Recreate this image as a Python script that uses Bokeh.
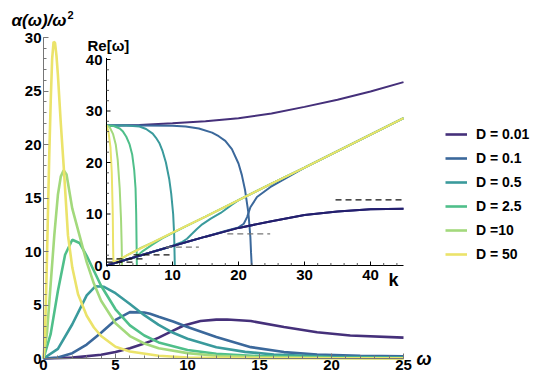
from bokeh.plotting import figure
from bokeh.models import Range1d, Legend, LegendItem, Label, FixedTicker
from bokeh.embed import file_html
from bokeh.resources import INLINE
from bokeh.core.properties import value

# ---------------- data: main plot  alpha(omega)/omega^2 ----------------
labels = ["D = 0.01", "D = 0.1", "D = 0.5", "D = 2.5", "D =10", "D = 50"]
colors = ["#45307a", "#3b689b", "#3a9a9c", "#4fbf8a", "#a3d97c", "#ebe36a"]

w_001 = [0, 2, 4, 5, 6, 7, 7.4, 8, 9, 9.74, 10.9, 12, 12.75, 14.4, 16.7, 19, 21.3, 25]
a_001 = [0, 0.08, 0.35, 0.6, 0.95, 1.4, 1.6, 1.95, 2.6, 3.08, 3.5, 3.63, 3.65, 3.5, 2.95, 2.45, 2.15, 1.95]

w_01 = [0, 1, 2, 3, 4, 5, 6, 7, 7.4, 8, 9, 10, 12, 14.4, 16.7, 19, 22, 25]
a_01 = [0, 0.1, 0.5, 1.3, 2.4, 3.6, 4.33, 4.3, 4.18, 3.9, 3.45, 2.95, 2.0, 1.06, 0.6, 0.37, 0.26, 0.2]

w_05 = [0, 1, 2, 3, 3.6, 4.2, 5, 6, 7, 8, 9, 10, 12, 14, 16, 20, 25]
a_05 = [0, 0.9, 3.2, 5.9, 6.75, 6.7, 6.1, 5.1, 4.05, 3.15, 2.4, 1.85, 1.05, 0.62, 0.38, 0.17, 0.08]

w_25 = [0, 0.5, 1.0, 1.5, 2.0, 2.5, 3.0, 3.5, 4.0, 5.0, 6.0, 7.0, 8.0, 10, 12, 15, 20, 25]
a_25 = [0, 2.3, 6.3, 9.7, 11.1, 10.8, 9.6, 8.2, 6.8, 4.6, 3.1, 2.15, 1.5, 0.8, 0.45, 0.22, 0.08, 0.04]

w_10 = [0, 0.25, 0.5, 0.75, 1.0, 1.2, 1.4, 1.6, 2.0, 2.5, 3.0, 3.5, 4.0, 5.0, 6.0, 7.0, 8.0, 10, 12, 15, 20, 25]
a_10 = [0, 2.5, 7, 11.5, 15.3, 17, 17.6, 17.2, 14, 11.5, 9.0, 7.0, 5.4, 3.3, 2.1, 1.4, 0.95, 0.5, 0.26, 0.12, 0.05, 0.02]

w_50 = [0, 0.1, 0.2, 0.3, 0.4, 0.5, 0.6, 0.7, 0.8, 0.9, 1.0, 1.2, 1.4, 1.7, 2.0, 2.4, 3.0, 3.5, 4.0, 5.0, 6.0, 8.0, 10, 14, 20, 25]
a_50 = [0, 2, 7, 13, 19, 24, 28, 29.6, 29.5, 28.3, 26.5, 22, 18, 11.5, 8.5, 6.0, 4.0, 2.9, 2.1, 1.1, 0.65, 0.25, 0.1, 0.04, 0.02, 0.01]

main_w = [w_001, w_01, w_05, w_25, w_10, w_50]
main_a = [a_001, a_01, a_05, a_25, a_10, a_50]

# ---------------- data: inset  Re[omega](k) ----------------
k_up_001 = [0, 5, 10, 15, 20, 25, 30, 35, 40, 45]
v_up_001 = [27.2, 27.3, 27.6, 28.0, 28.6, 29.5, 30.8, 32.2, 33.8, 35.6]
k_lo_001 = [0, 5, 10, 15, 20, 25, 30, 35, 40, 45]
v_lo_001 = [0, 1.9, 3.8, 5.6, 7.3, 8.6, 9.8, 10.5, 10.9, 11.0]

k_up_01 = [0, 5, 10, 12, 14, 16, 17, 18, 19, 20, 20.5, 21, 21.5, 21.8, 21.9, 22.0]
v_up_01 = [27.2, 27.2, 27.15, 27.0, 26.6, 25.8, 25.1, 24.2, 22.6, 19.8, 17.6, 14.6, 10.2, 5.5, 2.5, 0]
k_lo_01 = [0, 5, 10, 15, 18, 20, 20.8, 21.3, 21.8, 22.8, 24.8, 27.4, 30, 35, 40, 45]
v_lo_01 = [0, 1.9, 3.8, 5.6, 6.7, 7.4, 8.1, 9.4, 11.3, 13.3, 15.2, 17.1, 19.0, 22.2, 25.4, 28.6]

k_up_05 = [0, 3, 5, 6, 7, 7.5, 8, 8.5, 9, 9.5, 9.8, 10.1, 10.25, 10.35]
v_up_05 = [27.2, 27.2, 27.0, 26.5, 25.6, 24.8, 23.8, 22.2, 20.0, 16.8, 14.0, 10.0, 6.0, 0]
k_lo_05 = [0, 5, 10, 10.7, 11.5, 12.2, 13, 13.7, 14.5, 15.8, 17.3, 19, 20, 25, 30, 35, 40, 45]
v_lo_05 = [0, 1.9, 3.8, 4.2, 4.6, 5.2, 6.2, 7.1, 8.0, 9.1, 10.2, 11.8, 12.7, 15.9, 19.0, 22.2, 25.4, 28.6]

k_up_25 = [0, 1, 2, 2.5, 3, 3.5, 3.9, 4.2, 4.4, 4.5, 4.55, 4.6]
v_up_25 = [27.2, 27.1, 26.6, 26.0, 25.0, 23.5, 21.5, 18.5, 15, 10, 5, 0]
k_lo_25 = [4.6, 5.5, 7, 8.5, 10, 12, 15, 20, 25, 30, 35, 40, 45]
v_lo_25 = [1.8, 2.8, 4.1, 5.3, 6.3, 7.6, 9.5, 12.7, 15.9, 19.0, 22.2, 25.4, 28.6]

k_up_10 = [0, 0.5, 1, 1.4, 1.7, 2.0, 2.2, 2.3, 2.35]
v_up_10 = [27.2, 26.8, 25.5, 23.5, 20.5, 15, 9, 4, 0]
k_lo_10 = [2.35, 3, 4, 5, 7, 10, 15, 20, 25, 30, 35, 40, 45]
v_lo_10 = [1.3, 1.9, 2.6, 3.3, 4.5, 6.4, 9.5, 12.7, 15.9, 19.0, 22.2, 25.4, 28.6]

k_up_50 = [0, 0.3, 0.6, 0.8, 0.95, 1.0, 1.05]
v_up_50 = [27.2, 26, 23, 18, 10, 4, 0.5]
k_lo_50 = [1.05, 2, 3, 5, 10, 15, 20, 25, 30, 35, 40, 45]
v_lo_50 = [0.65, 1.3, 1.9, 3.2, 6.4, 9.5, 12.7, 15.9, 19.0, 22.2, 25.4, 28.6]

inset_up = [(k_up_001, v_up_001), (k_up_01, v_up_01), (k_up_05, v_up_05),
            (k_up_25, v_up_25), (k_up_10, v_up_10), (k_up_50, v_up_50)]
inset_lo = [(k_lo_001, v_lo_001), (k_lo_01, v_lo_01), (k_lo_05, v_lo_05),
            (k_lo_25, v_lo_25), (k_lo_10, v_lo_10), (k_lo_50, v_lo_50)]
lower_navy = "#231f6e"

# dashed cutoff levels in inset: level, k start, k end
dash_level = [12.75, 6.15, 3.55, 2.07, 1.3, 0.65]
dash_k0 = [34.7, 18.3, 9.0, 4.1, 0.0, 0.0]
dash_k1 = [45.0, 24.8, 14.0, 10.0, 6.0, 4.5]
dash_col = ["#111111", "#777777", "#777777", "#111111", "#111111", "#111111"]

main_xticks = [0, 5, 10, 15, 20, 25]
main_yticks = [0, 5, 10, 15, 20, 25, 30]
inset_kticks = [0, 10, 20, 30, 40]
inset_kminor = [2, 4, 6, 8, 12, 14, 16, 18, 22, 24, 26, 28, 32, 34, 36, 38, 42, 44]
inset_vticks = [0, 10, 20, 30, 40]
inset_vminor = [2, 4, 6, 8, 12, 14, 16, 18, 22, 24, 26, 28, 32, 34, 36, 38]

# ---------------- layout constants (page px; figure fills the page) ----------------
W, H = 533, 381
X0, X1, Y0, Y1 = 43, 403, 358, 37        # main: omega 0 / 25, value 0 / 30
IX0, IX1, IY0, IY1 = 106, 403, 265, 59   # inset: k 0 / 45, Re 0 / 40
sx = (X1 - X0) / 25
sy = (Y0 - Y1) / 30
kx = (IX1 - IX0) / 45
vy = (IY0 - IY1) / 40

FONT = "Liberation Sans"

p = figure(width=W, height=H, output_backend="svg", toolbar_location=None,
           x_range=Range1d(-X0 / sx, (W - X0) / sx),
           y_range=Range1d(-(H - Y0) / sy, Y0 / sy),
           min_border=0)
p.extra_x_ranges = {"k": Range1d(-IX0 / kx, (W - IX0) / kx)}
p.extra_y_ranges = {"re": Range1d(-(H - IY0) / vy, IY0 / vy)}
p.outline_line_color = None
p.grid.visible = False
p.background_fill_color = "white"
p.border_fill_color = "white"

for ax in (p.xaxis[0], p.yaxis[0]):
    ax.fixed_location = 0
    ax.axis_line_color = "#777777"
    ax.major_tick_line_color = "#777777"
    ax.minor_tick_line_color = "#777777"
    ax.major_tick_in = 5
    ax.major_tick_out = 0
    ax.minor_tick_in = 3
    ax.minor_tick_out = 0
    ax.major_label_text_font = FONT
    ax.major_label_text_font_style = "bold"
    ax.major_label_text_font_size = "15px"
    ax.major_label_text_color = "black"
p.xaxis.bounds = (0, 25)
p.yaxis.bounds = (0, 30)
p.xaxis.ticker = FixedTicker(ticks=main_xticks, minor_ticks=list(range(0, 26)))
p.yaxis.ticker = FixedTicker(ticks=main_yticks, minor_ticks=list(range(0, 31)))
p.xaxis.major_label_standoff = 1
p.yaxis.major_label_standoff = 2

# main curves
renderers = []
for w, a, c in zip(main_w, main_a, colors):
    r = p.line(w, a, line_color=c, line_width=2.6)
    renderers.append(r)

# inset curves
for (k, v), c in zip(inset_up, colors):
    p.line(k, v, line_color=c, line_width=2.0, x_range_name="k", y_range_name="re")
for i, ((k, v), c) in enumerate(zip(inset_lo, colors)):
    p.line(k, v, line_color=(lower_navy if i == 0 else c), line_width=2.0,
           x_range_name="k", y_range_name="re")
p.line(k_lo_001, v_lo_001, line_color=lower_navy, line_width=2.0,
       x_range_name="k", y_range_name="re")

for lv, k0, k1, dc in zip(dash_level, dash_k0, dash_k1, dash_col):
    p.line([k0, k1], [lv, lv], line_color=dc, line_width=1.3, line_dash="6 4",
           x_range_name="k", y_range_name="re")

# inset axes
p.segment(x0=[0], y0=[0], x1=[45], y1=[0], line_color="black", line_width=1,
          x_range_name="k", y_range_name="re")
p.segment(x0=[0], y0=[0], x1=[0], y1=[40.3], line_color="black", line_width=1,
          x_range_name="k", y_range_name="re")
p.segment(x0=inset_kticks, y0=[0] * 5, x1=inset_kticks, y1=[4 / vy] * 5,
          line_color="black", x_range_name="k", y_range_name="re")
p.segment(x0=inset_kminor, y0=[0] * len(inset_kminor), x1=inset_kminor,
          y1=[2.5 / vy] * len(inset_kminor),
          line_color="#555555", x_range_name="k", y_range_name="re")
p.segment(x0=[0] * 5, y0=inset_vticks, x1=[4 / kx] * 5, y1=inset_vticks,
          line_color="black", x_range_name="k", y_range_name="re")
p.segment(x0=[0] * len(inset_vminor), y0=inset_vminor, x1=[2.5 / kx] * len(inset_vminor),
          y1=inset_vminor, line_color="#555555", x_range_name="k", y_range_name="re")
p.text(x=inset_kticks, y=[0] * 5, text=[str(t) for t in inset_kticks],
       x_range_name="k", y_range_name="re", text_align="center", text_baseline="top",
       y_offset=4, text_font=value(FONT), text_font_style="bold",
       text_font_size="15px", text_color="black")
p.text(x=[0] * 5, y=inset_vticks, text=[str(t) for t in inset_vticks],
       x_range_name="k", y_range_name="re", text_align="right", text_baseline="middle",
       x_offset=-4, text_font=value(FONT), text_font_style="bold",
       text_font_size="15px", text_color="black")

# texts (screen units = page px, y measured upward from the bottom)
def lab(text, x, y, size, style="bold", align="left"):
    p.add_layout(Label(x=x, y=H - y, x_units="screen", y_units="screen", text=text,
                       text_font=FONT, text_font_style=style, text_font_size=size,
                       text_baseline="middle", text_align=align, text_color="black"))

lab("α(ω)/ω", 11, 20, "17px", "bold italic")
lab("2", 67, 14, "11px", "bold")
lab("ω", 416, 358, "18px", "bold italic")
lab("Re[ω]", 87, 45, "15px", "bold")
lab("k", 393, 279, "18px", "bold", "center")

legend = Legend(items=[LegendItem(label=l, renderers=[r]) for l, r in zip(labels, renderers)],
                location=(445, H - 264), orientation="vertical",
                label_text_font=FONT, label_text_font_style="bold",
                label_text_font_size="14px", label_text_color="black",
                glyph_width=22, glyph_height=20, label_height=20, spacing=4,
                label_standoff=9, padding=0, margin=0,
                border_line_color=None, background_fill_alpha=0)
p.add_layout(legend, "center")

open("out.html", "w").write(file_html(p, INLINE))
